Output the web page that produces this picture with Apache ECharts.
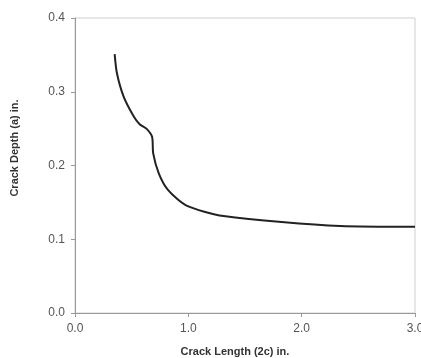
<!DOCTYPE html>
<html>
<head>
<meta charset="utf-8">
<script src="https://cdn.jsdelivr.net/npm/echarts@6/dist/echarts.min.js"></script>
<style>
  html, body {margin: 0; padding: 0; background: #fff;}
  #chart {width: 421px; height: 358px;}
</style>
</head>
<body>
<div id="chart"></div>
<script>
// crack length (2c) vs crack depth (a), inches
var crackLength = [0.35, 0.37, 0.43, 0.52, 0.57, 0.63, 0.68, 0.69, 0.74, 0.82, 0.98, 1.31, 2.34, 3.0];
var crackDepth = [0.351, 0.325, 0.293, 0.266, 0.256, 0.250, 0.239, 0.2165, 0.189, 0.167, 0.146, 0.1315, 0.118, 0.117];

var points = crackLength.map(function (x, i) { return [x, crackDepth[i]]; });

var myChart = echarts.init(document.getElementById('chart'));
myChart.setOption({
  animation: false,
  grid: {
    left: 75, right: 6, top: 18, bottom: 45,
    outerBoundsMode: 'none',
    show: true, borderColor: '#d0d0d0', borderWidth: 1
  },
  xAxis: {
    type: 'value',
    min: 0, max: 3, interval: 1,
    name: 'Crack Length (2c) in.',
    nameLocation: 'middle',
    nameGap: 33,
    nameTextStyle: {fontFamily: 'Liberation Sans', fontWeight: 'bold', fontSize: 11, color: '#333', padding: [0, 20, 0, 0]},
    axisLine: {show: true, lineStyle: {color: '#999'}},
    axisTick: {show: true, length: 4, lineStyle: {color: '#999'}},
    splitLine: {show: false},
    axisLabel: {
      fontFamily: 'Liberation Sans', fontSize: 12, color: '#555', margin: 10,
      formatter: function (v) { return v.toFixed(1); }
    }
  },
  yAxis: {
    type: 'value',
    min: 0, max: 0.4, interval: 0.1,
    name: 'Crack Depth (a) in.',
    nameLocation: 'middle',
    nameGap: 55,
    nameTextStyle: {fontFamily: 'Liberation Sans', fontWeight: 'bold', fontSize: 11, color: '#333', padding: [0, 0, 0, 35]},
    axisLine: {show: true, lineStyle: {color: '#999'}},
    axisTick: {show: true, length: 4, lineStyle: {color: '#999'}},
    splitLine: {show: false},
    axisLabel: {
      fontFamily: 'Liberation Sans', fontSize: 12, color: '#555', margin: 10,
      formatter: function (v) { return v.toFixed(1); }
    }
  },
  series: [{
    type: 'line',
    data: points,
    symbol: 'none',
    smooth: 0.25,
    lineStyle: {color: '#222', width: 2}
  }]
});
</script>
</body>
</html>
